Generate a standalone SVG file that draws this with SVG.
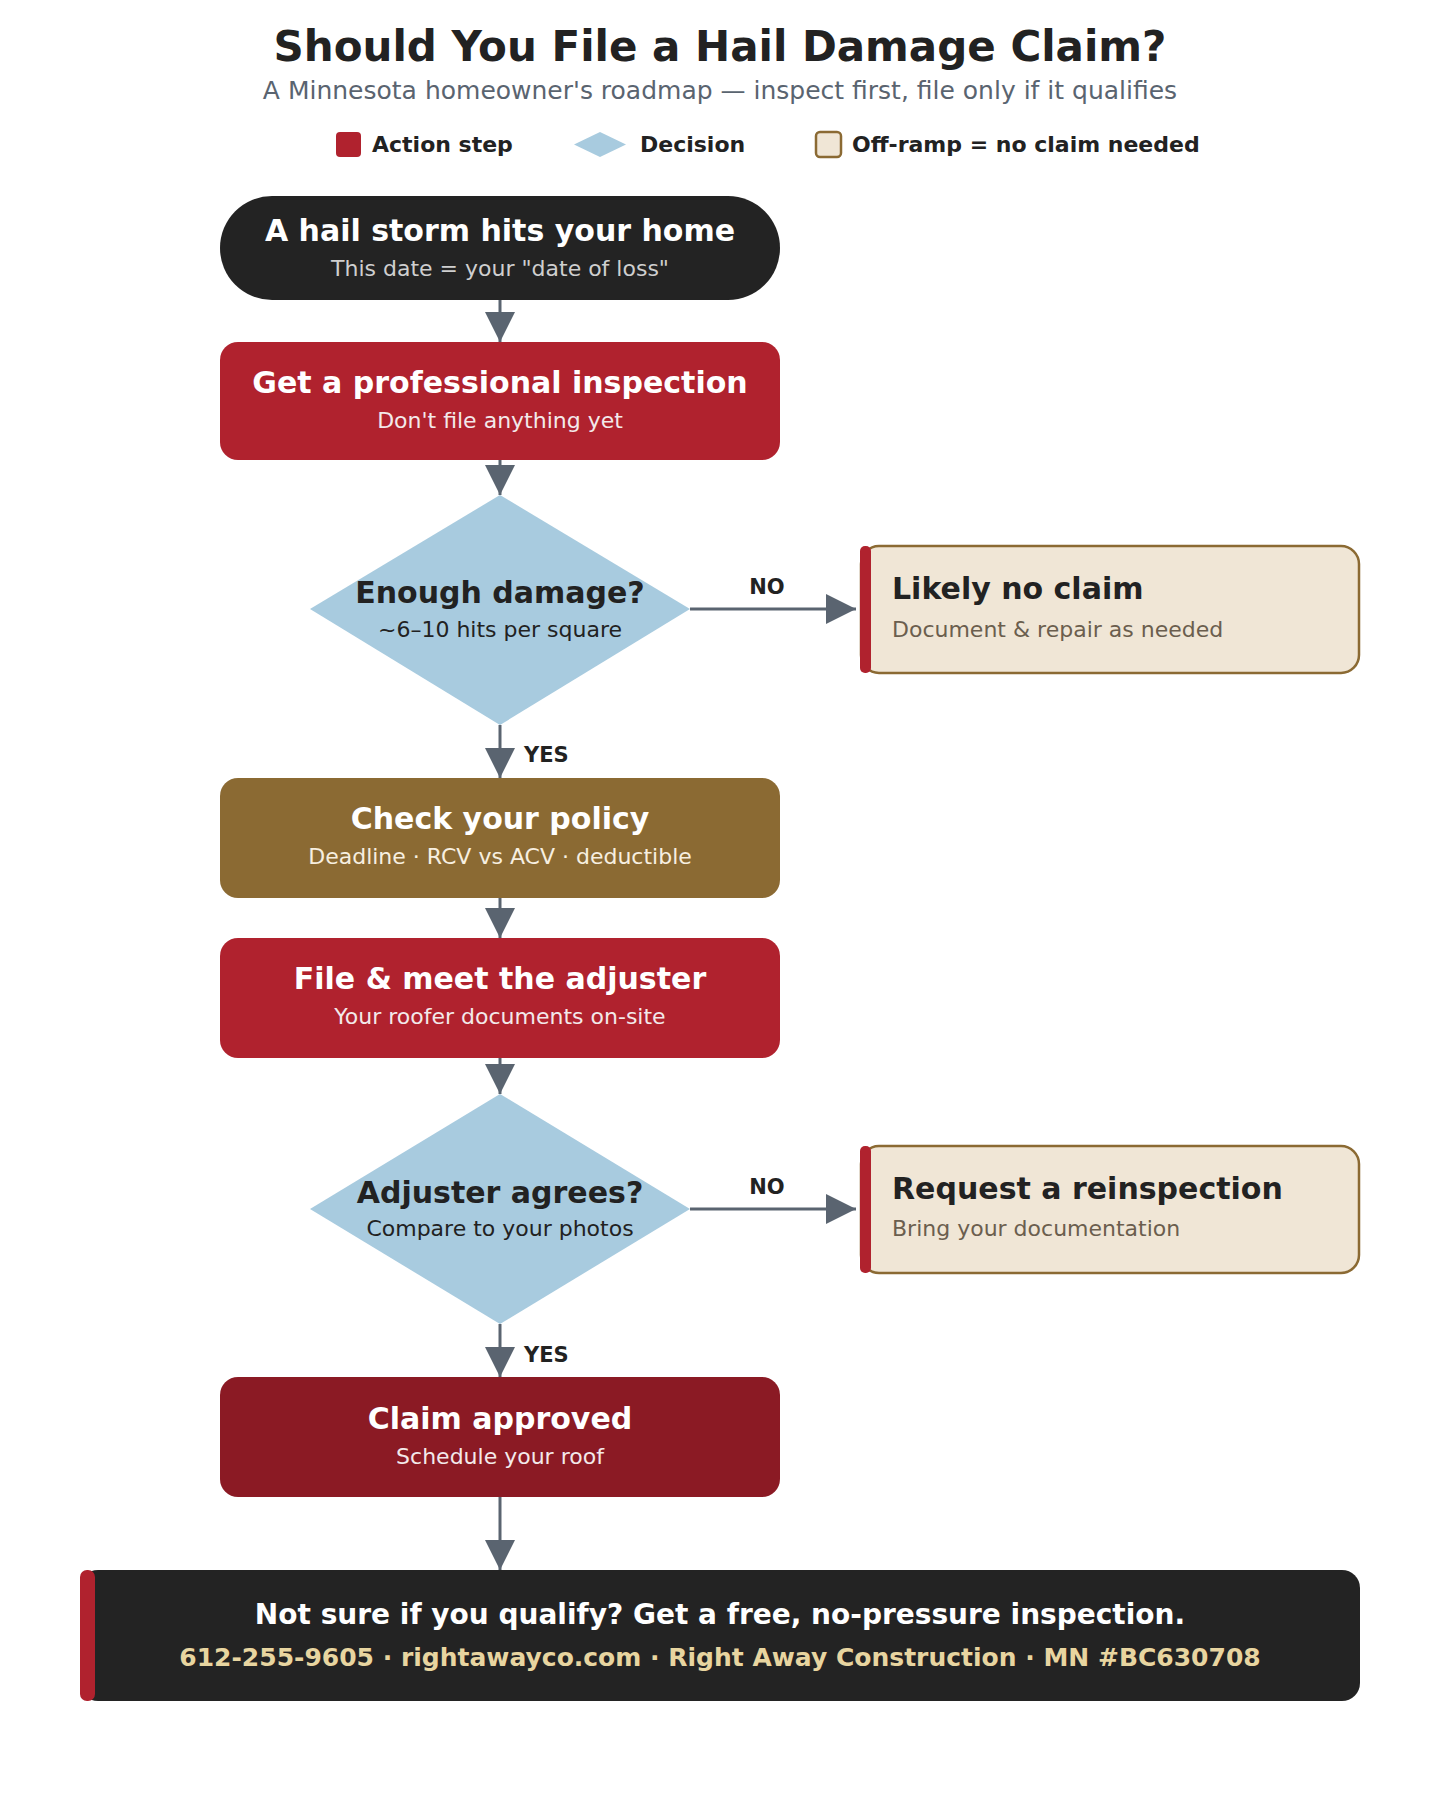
<svg xmlns="http://www.w3.org/2000/svg" width="1440" height="1820" viewBox="0 0 1440 1820">
<style>
text{font-family:"DejaVu Sans","Liberation Sans",sans-serif}
.t{font-weight:bold;font-size:30px;text-anchor:middle;fill:#ffffff}
.s{font-size:22px;text-anchor:middle;fill:#f3e9ea}
.dt{font-weight:bold;font-size:30px;text-anchor:middle;fill:#222222}
.ds{font-size:22px;text-anchor:middle;fill:#222222}
.ot{font-weight:bold;font-size:30px;fill:#222222}
.os{font-size:22px;fill:#6b5e4e}
.lbl{font-weight:bold;font-size:21px;fill:#222222}
.leg{font-weight:bold;font-size:22px;fill:#222222}
.c{stroke:#5a6470;stroke-width:3;fill:none}
.act{fill:#b0222e}
.dec{fill:#a8cbdf}
.off{fill:#f0e6d6;stroke:#8b6a33;stroke-width:2.5}
.bar{fill:#b0222e}
</style>
<defs>
<marker id="ah" viewBox="0 0 30 30" refX="30" refY="15" markerWidth="30" markerHeight="30" markerUnits="userSpaceOnUse" orient="auto">
<path d="M0,0 L30,15 L0,30 Z" fill="#5a6470"/>
</marker>
</defs>
<rect width="1440" height="1820" fill="#ffffff"/>
<g id="header">
<text x="720" y="61" text-anchor="middle" font-size="42" font-weight="bold" fill="#222222">Should You File a Hail Damage Claim?</text>
<text x="720" y="99" text-anchor="middle" font-size="25" fill="#5a6470">A Minnesota homeowner's roadmap — inspect first, file only if it qualifies</text>
</g>
<g id="legend">
<rect x="336" y="132" width="25" height="25" rx="4" class="act"/>
<text x="372" y="152" class="leg">Action step</text>
<path d="M574,144.5 L600,132 L626,144.5 L600,157 Z" class="dec"/>
<text x="640" y="152" class="leg">Decision</text>
<rect x="816" y="132" width="25" height="25" rx="4" class="off" stroke-width="2"/>
<text x="852" y="152" class="leg">Off-ramp = no claim needed</text>
</g>
<g id="connectors">
<line x1="500" y1="300" x2="500" y2="342" class="c" marker-end="url(#ah)"/>
<line x1="500" y1="460" x2="500" y2="495" class="c" marker-end="url(#ah)"/>
<line x1="690" y1="609" x2="856" y2="609" class="c" marker-end="url(#ah)"/>
<text x="767" y="594" class="lbl" text-anchor="middle">NO</text>
<line x1="500" y1="725" x2="500" y2="778" class="c" marker-end="url(#ah)"/>
<text x="524" y="762" class="lbl">YES</text>
<line x1="500" y1="898" x2="500" y2="938" class="c" marker-end="url(#ah)"/>
<line x1="500" y1="1058" x2="500" y2="1094" class="c" marker-end="url(#ah)"/>
<line x1="690" y1="1209" x2="856" y2="1209" class="c" marker-end="url(#ah)"/>
<text x="767" y="1194" class="lbl" text-anchor="middle">NO</text>
<line x1="500" y1="1324" x2="500" y2="1377" class="c" marker-end="url(#ah)"/>
<text x="524" y="1362" class="lbl">YES</text>
<line x1="500" y1="1497" x2="500" y2="1570" class="c" marker-end="url(#ah)"/>
</g>
<g id="start">
<rect x="220" y="196" width="560" height="104" rx="52" fill="#232323"/>
<text x="500" y="241" class="t">A hail storm hits your home</text>
<text x="500" y="276" class="s" style="fill:#cfcfcf">This date = your "date of loss"</text>
</g>
<g id="inspect">
<rect x="220" y="342" width="560" height="118" rx="18" class="act"/>
<text x="500" y="393" class="t">Get a professional inspection</text>
<text x="500" y="428" class="s">Don't file anything yet</text>
</g>
<g id="enough-damage">
<path d="M500,495 L690,609 L500,725 L310,609 Z" class="dec"/>
<text x="500" y="603" class="dt">Enough damage?</text>
<text x="500" y="637" class="ds">~6–10 hits per square</text>
</g>
<g id="no-claim">
<rect x="861" y="546" width="498" height="127" rx="18" class="off"/>
<rect x="860" y="546" width="11" height="127" rx="5" class="bar"/>
<text x="892" y="599" class="ot">Likely no claim</text>
<text x="892" y="637" class="os">Document &amp; repair as needed</text>
</g>
<g id="policy">
<rect x="220" y="778" width="560" height="120" rx="18" fill="#8b6a33"/>
<text x="500" y="829" class="t">Check your policy</text>
<text x="500" y="864" class="s" style="fill:#f7efe0">Deadline · RCV vs ACV · deductible</text>
</g>
<g id="adjuster">
<rect x="220" y="938" width="560" height="120" rx="18" class="act"/>
<text x="500" y="989" class="t">File &amp; meet the adjuster</text>
<text x="500" y="1024" class="s">Your roofer documents on-site</text>
</g>
<g id="adjuster-agrees">
<path d="M500,1094 L690,1209 L500,1324 L310,1209 Z" class="dec"/>
<text x="500" y="1203" class="dt">Adjuster agrees?</text>
<text x="500" y="1236" class="ds">Compare to your photos</text>
</g>
<g id="reinspection">
<rect x="861" y="1146" width="498" height="127" rx="18" class="off"/>
<rect x="860" y="1146" width="11" height="127" rx="5" class="bar"/>
<text x="892" y="1199" class="ot">Request a reinspection</text>
<text x="892" y="1236" class="os">Bring your documentation</text>
</g>
<g id="approved">
<rect x="220" y="1377" width="560" height="120" rx="18" fill="#8b1a24"/>
<text x="500" y="1429" class="t">Claim approved</text>
<text x="500" y="1464" class="s">Schedule your roof</text>
</g>
<g id="footer">
<rect x="80" y="1570" width="1280" height="131" rx="18" fill="#232323"/>
<rect x="80" y="1570" width="15" height="131" rx="7" class="bar"/>
<text x="720" y="1624" text-anchor="middle" font-size="28" font-weight="bold" fill="#ffffff">Not sure if you qualify? Get a free, no-pressure inspection.</text>
<text x="720" y="1666" text-anchor="middle" font-size="25" font-weight="bold" fill="#e8d5a0">612-255-9605 · rightawayco.com · Right Away Construction · MN #BC630708</text>
</g>
</svg>
